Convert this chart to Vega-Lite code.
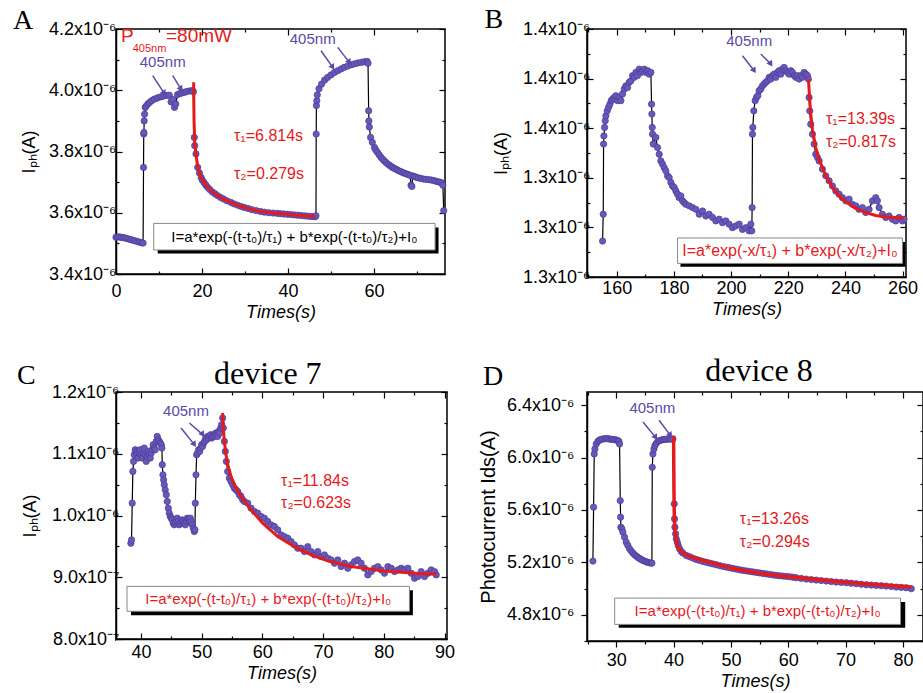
{
"$schema": "https://vega.github.io/schema/vega-lite/v6.json",
"padding": {"left": 12, "top": 5, "right": 0, "bottom": 0},
"background": "white",
"config": {
  "view": {"stroke": "black", "strokeWidth": 1.5},
  "axis": {"grid": false, "domainColor": "black", "domainWidth": 1.5, "tickColor": "black", "tickWidth": 1.2, "labelFont": "Liberation Sans", "labelFontSize": 18, "labelColor": "black", "titleFont": "Liberation Sans", "titleFontSize": 18, "titleFontWeight": "normal", "titleColor": "black", "labelFlush": false, "labelOverlap": false},
  "text": {"font": "Liberation Sans"}
},
"columns": 2,
"bounds": "flush",
"align": "each",
"spacing": {"row": 115, "column": 140},
"datasets": {
 "a": [{"x":0.0,"y":3.52},{"x":0.4,"y":3.521},{"x":0.8,"y":3.521},{"x":1.2,"y":3.52},{"x":1.6,"y":3.519},{"x":2.0,"y":3.518},{"x":2.5,"y":3.516},{"x":3.0,"y":3.514},{"x":3.5,"y":3.512},{"x":4.0,"y":3.51},{"x":4.5,"y":3.508},{"x":5.0,"y":3.506},{"x":5.5,"y":3.504},{"x":6.0,"y":3.502},{"x":6.3,"y":3.501},{"x":6.4,"y":3.748},{"x":6.45,"y":3.857},{"x":6.5,"y":3.862},{"x":6.55,"y":3.9},{"x":6.65,"y":3.922},{"x":6.8,"y":3.944},{"x":7.0,"y":3.948},{"x":7.4,"y":3.955},{"x":7.8,"y":3.96},{"x":8.3,"y":3.966},{"x":8.9,"y":3.971},{"x":9.5,"y":3.974},{"x":10.0,"y":3.977},{"x":10.6,"y":3.979},{"x":11.2,"y":3.982},{"x":11.8,"y":3.983},{"x":12.4,"y":3.984},{"x":12.8,"y":3.962},{"x":13.2,"y":3.97},{"x":13.6,"y":3.944},{"x":13.9,"y":3.955},{"x":14.3,"y":3.986},{"x":14.8,"y":3.989},{"x":15.3,"y":3.991},{"x":15.8,"y":3.993},{"x":16.3,"y":3.995},{"x":16.8,"y":3.997},{"x":17.4,"y":3.998},{"x":17.8,"y":3.999},{"x":18.0,"y":3.995},{"x":18.2,"y":3.846},{"x":18.3,"y":3.819},{"x":18.6,"y":3.792},{"x":19.0,"y":3.748},{"x":19.4,"y":3.73},{"x":19.8,"y":3.715},{"x":20.1,"y":3.706},{"x":20.5,"y":3.698},{"x":20.9,"y":3.69},{"x":21.3,"y":3.683},{"x":21.8,"y":3.676},{"x":22.4,"y":3.668},{"x":23.0,"y":3.662},{"x":23.6,"y":3.656},{"x":24.3,"y":3.65},{"x":25.0,"y":3.645},{"x":25.8,"y":3.639},{"x":26.7,"y":3.634},{"x":27.4,"y":3.629},{"x":28.2,"y":3.625},{"x":29.0,"y":3.621},{"x":29.8,"y":3.6175},{"x":30.7,"y":3.614},{"x":31.6,"y":3.61},{"x":32.6,"y":3.607},{"x":33.6,"y":3.604},{"x":34.5,"y":3.602},{"x":35.5,"y":3.6},{"x":36.5,"y":3.599},{"x":37.5,"y":3.598},{"x":38.2,"y":3.597},{"x":39.0,"y":3.596},{"x":39.8,"y":3.595},{"x":40.6,"y":3.594},{"x":41.4,"y":3.593},{"x":42.2,"y":3.592},{"x":43.0,"y":3.591},{"x":43.8,"y":3.59},{"x":44.5,"y":3.589},{"x":45.2,"y":3.588},{"x":45.8,"y":3.5875},{"x":46.3,"y":3.587},{"x":46.5,"y":3.59},{"x":46.55,"y":3.857},{"x":46.6,"y":3.95},{"x":46.7,"y":3.966},{"x":46.8,"y":3.985},{"x":47.2,"y":4.005},{"x":47.8,"y":4.02},{"x":48.5,"y":4.033},{"x":49.2,"y":4.042},{"x":50.0,"y":4.05},{"x":50.8,"y":4.058},{"x":51.6,"y":4.064},{"x":52.4,"y":4.07},{"x":53.1,"y":4.075},{"x":53.9,"y":4.079},{"x":54.7,"y":4.083},{"x":55.4,"y":4.086},{"x":56.2,"y":4.089},{"x":57.0,"y":4.091},{"x":57.7,"y":4.093},{"x":58.4,"y":4.094},{"x":58.6,"y":4.088},{"x":58.75,"y":3.933},{"x":58.8,"y":3.9},{"x":58.9,"y":3.88},{"x":59.2,"y":3.846},{"x":59.6,"y":3.83},{"x":60.1,"y":3.813},{"x":60.4,"y":3.805},{"x":60.8,"y":3.797},{"x":61.2,"y":3.789},{"x":61.6,"y":3.781},{"x":62.0,"y":3.775},{"x":62.4,"y":3.769},{"x":62.8,"y":3.764},{"x":63.2,"y":3.759},{"x":63.6,"y":3.755},{"x":64.0,"y":3.751},{"x":64.3,"y":3.748},{"x":64.7,"y":3.745},{"x":65.1,"y":3.742},{"x":65.5,"y":3.739},{"x":65.9,"y":3.736},{"x":66.3,"y":3.734},{"x":66.7,"y":3.731},{"x":67.1,"y":3.729},{"x":67.5,"y":3.727},{"x":67.9,"y":3.725},{"x":68.4,"y":3.722},{"x":68.6,"y":3.69},{"x":68.8,"y":3.686},{"x":69.0,"y":3.72},{"x":69.4,"y":3.718},{"x":69.8,"y":3.716},{"x":70.3,"y":3.714},{"x":70.9,"y":3.712},{"x":71.5,"y":3.71},{"x":72.1,"y":3.709},{"x":72.7,"y":3.708},{"x":73.3,"y":3.707},{"x":73.9,"y":3.705},{"x":74.4,"y":3.703},{"x":74.9,"y":3.701},{"x":75.3,"y":3.7},{"x":75.7,"y":3.698},{"x":76.0,"y":3.69},{"x":76.2,"y":3.607}],
 "af": [{"x":18.05,"y":4.026},{"x":18.1,"y":3.95},{"x":18.15,"y":3.9},{"x":18.3,"y":3.83},{"x":18.6,"y":3.79},{"x":19.0,"y":3.75},{"x":19.8,"y":3.715},{"x":20.5,"y":3.697},{"x":21.3,"y":3.683},{"x":22.5,"y":3.668},{"x":23.6,"y":3.656},{"x":25.0,"y":3.645},{"x":26.7,"y":3.634},{"x":28.0,"y":3.626},{"x":29.8,"y":3.6175},{"x":31.5,"y":3.611},{"x":33.6,"y":3.604},{"x":35.5,"y":3.601},{"x":37.5,"y":3.598},{"x":40.0,"y":3.595},{"x":42.0,"y":3.592},{"x":44.0,"y":3.59},{"x":46.3,"y":3.587}],
 "b": [{"x":155.05,"y":1.3145},{"x":155.28,"y":1.3253},{"x":155.4,"y":1.3536},{"x":155.51,"y":1.3569},{"x":155.75,"y":1.3603},{"x":155.98,"y":1.363},{"x":156.21,"y":1.365},{"x":156.68,"y":1.367},{"x":157.14,"y":1.3684},{"x":157.61,"y":1.3697},{"x":158.08,"y":1.3711},{"x":158.54,"y":1.3717},{"x":159.13,"y":1.3724},{"x":159.71,"y":1.3731},{"x":160.29,"y":1.3711},{"x":160.87,"y":1.3724},{"x":161.46,"y":1.3711},{"x":162.04,"y":1.3738},{"x":162.62,"y":1.3758},{"x":163.21,"y":1.3771},{"x":163.79,"y":1.3764},{"x":164.37,"y":1.3785},{"x":164.95,"y":1.3791},{"x":165.54,"y":1.3812},{"x":166.12,"y":1.3805},{"x":166.7,"y":1.3825},{"x":167.28,"y":1.3812},{"x":167.87,"y":1.3838},{"x":168.45,"y":1.3825},{"x":169.03,"y":1.3832},{"x":169.62,"y":1.3838},{"x":170.2,"y":1.3825},{"x":170.78,"y":1.3832},{"x":171.36,"y":1.3818},{"x":171.95,"y":1.3825},{"x":172.18,"y":1.3697},{"x":172.3,"y":1.3657},{"x":172.41,"y":1.3603},{"x":172.53,"y":1.3576},{"x":172.76,"y":1.3536},{"x":173.69,"y":1.3563},{"x":174.28,"y":1.3522},{"x":174.86,"y":1.3495},{"x":175.44,"y":1.3468},{"x":176.03,"y":1.3455},{"x":176.61,"y":1.3441},{"x":177.19,"y":1.3428},{"x":177.77,"y":1.3408},{"x":178.36,"y":1.3401},{"x":178.94,"y":1.3381},{"x":179.52,"y":1.3367},{"x":180.1,"y":1.3361},{"x":180.69,"y":1.3347},{"x":181.27,"y":1.3334},{"x":181.85,"y":1.332},{"x":182.44,"y":1.3327},{"x":183.02,"y":1.3307},{"x":183.6,"y":1.33},{"x":184.18,"y":1.3293},{"x":185.35,"y":1.3287},{"x":186.52,"y":1.328},{"x":187.68,"y":1.3273},{"x":188.85,"y":1.3253},{"x":190.01,"y":1.3266},{"x":191.18,"y":1.3246},{"x":192.34,"y":1.3253},{"x":193.51,"y":1.324},{"x":194.67,"y":1.3226},{"x":195.84,"y":1.3233},{"x":197.0,"y":1.3219},{"x":198.17,"y":1.3226},{"x":199.33,"y":1.3213},{"x":200.5,"y":1.3199},{"x":201.66,"y":1.3206},{"x":202.83,"y":1.3213},{"x":204.0,"y":1.3192},{"x":205.16,"y":1.3199},{"x":206.33,"y":1.3186},{"x":206.91,"y":1.3213},{"x":207.26,"y":1.3186},{"x":207.37,"y":1.328},{"x":207.49,"y":1.3576},{"x":207.61,"y":1.3603},{"x":207.96,"y":1.367},{"x":208.42,"y":1.3711},{"x":208.89,"y":1.3724},{"x":209.35,"y":1.3731},{"x":209.82,"y":1.3751},{"x":210.41,"y":1.3758},{"x":210.99,"y":1.3771},{"x":211.57,"y":1.3778},{"x":212.15,"y":1.3785},{"x":212.74,"y":1.3791},{"x":213.32,"y":1.3805},{"x":213.9,"y":1.3798},{"x":214.48,"y":1.3812},{"x":215.07,"y":1.3818},{"x":215.65,"y":1.3805},{"x":216.23,"y":1.3825},{"x":216.81,"y":1.3832},{"x":217.4,"y":1.3818},{"x":217.98,"y":1.3838},{"x":218.56,"y":1.3845},{"x":219.14,"y":1.3832},{"x":219.73,"y":1.3825},{"x":220.31,"y":1.3818},{"x":220.89,"y":1.3832},{"x":221.48,"y":1.3825},{"x":222.06,"y":1.3812},{"x":222.64,"y":1.3805},{"x":223.22,"y":1.3812},{"x":223.81,"y":1.3798},{"x":224.39,"y":1.3812},{"x":224.97,"y":1.3805},{"x":225.55,"y":1.3825},{"x":226.14,"y":1.3818},{"x":226.72,"y":1.3812},{"x":227.07,"y":1.3798},{"x":227.3,"y":1.3724},{"x":227.53,"y":1.367},{"x":227.88,"y":1.3616},{"x":228.47,"y":1.3576},{"x":229.05,"y":1.3536},{"x":229.63,"y":1.3495},{"x":230.21,"y":1.3482},{"x":230.8,"y":1.3468},{"x":231.96,"y":1.3435},{"x":233.13,"y":1.3408},{"x":234.29,"y":1.3388},{"x":235.46,"y":1.3367},{"x":236.63,"y":1.3347},{"x":237.79,"y":1.3334},{"x":238.96,"y":1.332},{"x":240.12,"y":1.3307},{"x":241.29,"y":1.3314},{"x":242.45,"y":1.3293},{"x":243.62,"y":1.3287},{"x":244.78,"y":1.3273},{"x":245.95,"y":1.328},{"x":247.11,"y":1.326},{"x":248.28,"y":1.3273},{"x":249.45,"y":1.3307},{"x":250.61,"y":1.332},{"x":251.2,"y":1.3307},{"x":251.78,"y":1.328},{"x":252.94,"y":1.3253},{"x":254.11,"y":1.324},{"x":255.27,"y":1.3246},{"x":256.44,"y":1.3233},{"x":257.6,"y":1.3226},{"x":258.77,"y":1.324},{"x":259.94,"y":1.3226},{"x":260.52,"y":1.3233}],
 "bf": [{"x":227.07,"y":1.3798},{"x":227.53,"y":1.3711},{"x":227.99,"y":1.3643},{"x":228.47,"y":1.3596},{"x":229.63,"y":1.3522},{"x":230.8,"y":1.3475},{"x":233.13,"y":1.3408},{"x":235.46,"y":1.3361},{"x":237.79,"y":1.3327},{"x":240.12,"y":1.3303},{"x":243.62,"y":1.3277},{"x":247.11,"y":1.326},{"x":250.61,"y":1.3248},{"x":254.11,"y":1.3242},{"x":257.6,"y":1.324},{"x":260.52,"y":1.3237}],
 "c": [{"x":38.35,"y":0.9551},{"x":38.46,"y":0.9605},{"x":38.57,"y":1.02},{"x":38.68,"y":1.0714},{"x":38.79,"y":1.0876},{"x":38.9,"y":1.0984},{"x":39.07,"y":1.1065},{"x":39.23,"y":1.1038},{"x":39.4,"y":1.1011},{"x":39.56,"y":1.093},{"x":39.73,"y":1.1011},{"x":39.89,"y":1.1065},{"x":40.05,"y":1.0984},{"x":40.22,"y":1.093},{"x":40.38,"y":1.1011},{"x":40.55,"y":1.1092},{"x":40.71,"y":1.0984},{"x":40.88,"y":1.0876},{"x":41.04,"y":1.0957},{"x":41.21,"y":1.1038},{"x":41.37,"y":1.0984},{"x":41.54,"y":1.093},{"x":41.7,"y":1.1011},{"x":41.87,"y":1.1065},{"x":42.03,"y":1.1146},{"x":42.2,"y":1.1092},{"x":42.36,"y":1.1065},{"x":42.53,"y":1.12},{"x":42.69,"y":1.1281},{"x":42.86,"y":1.1227},{"x":43.02,"y":1.12},{"x":43.19,"y":1.1173},{"x":43.35,"y":1.1146},{"x":43.46,"y":1.1092},{"x":43.52,"y":1.0822},{"x":43.63,"y":1.0659},{"x":43.74,"y":1.0578},{"x":43.85,"y":1.0497},{"x":44.01,"y":1.0416},{"x":44.18,"y":1.0335},{"x":44.34,"y":1.0227},{"x":44.51,"y":1.0119},{"x":44.67,"y":1.0038},{"x":44.84,"y":0.9984},{"x":45.0,"y":0.9957},{"x":45.16,"y":0.993},{"x":45.33,"y":0.9876},{"x":45.49,"y":0.9849},{"x":45.66,"y":0.9876},{"x":45.82,"y":0.9903},{"x":45.99,"y":0.9957},{"x":46.15,"y":0.9903},{"x":46.32,"y":0.9849},{"x":46.48,"y":0.9876},{"x":46.65,"y":0.9903},{"x":46.81,"y":0.993},{"x":46.98,"y":0.9903},{"x":47.14,"y":0.9876},{"x":47.31,"y":0.9849},{"x":47.47,"y":0.9903},{"x":47.64,"y":0.9957},{"x":47.8,"y":0.993},{"x":47.97,"y":0.9903},{"x":48.13,"y":0.9957},{"x":48.3,"y":0.9903},{"x":48.46,"y":0.9849},{"x":48.63,"y":0.9795},{"x":48.79,"y":0.9741},{"x":48.9,"y":0.9768},{"x":48.96,"y":1.02},{"x":49.07,"y":1.0659},{"x":49.18,"y":1.0984},{"x":49.34,"y":1.1011},{"x":49.51,"y":1.1065},{"x":49.67,"y":1.1038},{"x":49.84,"y":1.1092},{"x":50.0,"y":1.1146},{"x":50.16,"y":1.1119},{"x":50.33,"y":1.1173},{"x":50.49,"y":1.12},{"x":50.66,"y":1.1254},{"x":50.82,"y":1.1227},{"x":50.99,"y":1.1281},{"x":51.15,"y":1.1254},{"x":51.32,"y":1.1281},{"x":51.48,"y":1.1308},{"x":51.65,"y":1.1254},{"x":51.81,"y":1.1281},{"x":51.98,"y":1.1308},{"x":52.14,"y":1.1281},{"x":52.31,"y":1.1335},{"x":52.47,"y":1.1308},{"x":52.64,"y":1.1281},{"x":52.8,"y":1.1362},{"x":52.97,"y":1.1335},{"x":53.13,"y":1.1416},{"x":53.3,"y":1.147},{"x":53.46,"y":1.1578},{"x":53.57,"y":1.1416},{"x":53.74,"y":1.12},{"x":53.9,"y":1.1038},{"x":54.07,"y":1.0876},{"x":54.29,"y":1.0714},{"x":54.56,"y":1.0605},{"x":54.84,"y":1.0551},{"x":55.11,"y":1.0497},{"x":55.38,"y":1.0443},{"x":55.66,"y":1.0416},{"x":55.93,"y":1.0389},{"x":56.21,"y":1.0335},{"x":56.48,"y":1.0308},{"x":56.76,"y":1.0254},{"x":57.03,"y":1.0227},{"x":57.58,"y":1.02},{"x":58.13,"y":1.0119},{"x":58.68,"y":1.0065},{"x":59.23,"y":1.0038},{"x":59.78,"y":0.9984},{"x":60.33,"y":0.9957},{"x":60.88,"y":0.9903},{"x":61.43,"y":0.9849},{"x":61.98,"y":0.9822},{"x":62.53,"y":0.9768},{"x":63.08,"y":0.9686},{"x":63.63,"y":0.9659},{"x":64.18,"y":0.9632},{"x":64.73,"y":0.9578},{"x":65.27,"y":0.9524},{"x":65.82,"y":0.947},{"x":66.37,"y":0.947},{"x":66.92,"y":0.9416},{"x":67.47,"y":0.9497},{"x":68.02,"y":0.9416},{"x":68.57,"y":0.9362},{"x":69.12,"y":0.9416},{"x":69.67,"y":0.9335},{"x":70.22,"y":0.9362},{"x":70.77,"y":0.9308},{"x":71.32,"y":0.9281},{"x":71.87,"y":0.9227},{"x":72.42,"y":0.9281},{"x":72.97,"y":0.9173},{"x":73.52,"y":0.9227},{"x":74.07,"y":0.9146},{"x":74.62,"y":0.92},{"x":75.16,"y":0.9254},{"x":75.71,"y":0.9281},{"x":76.26,"y":0.9227},{"x":76.81,"y":0.9146},{"x":77.36,"y":0.9038},{"x":77.91,"y":0.9092},{"x":78.46,"y":0.9146},{"x":79.01,"y":0.9173},{"x":79.56,"y":0.9119},{"x":80.11,"y":0.9065},{"x":80.66,"y":0.9173},{"x":81.21,"y":0.9146},{"x":81.76,"y":0.9092},{"x":82.31,"y":0.9119},{"x":82.86,"y":0.9146},{"x":83.41,"y":0.9119},{"x":83.96,"y":0.9146},{"x":84.51,"y":0.9065},{"x":85.05,"y":0.8984},{"x":85.6,"y":0.9011},{"x":86.15,"y":0.9092},{"x":86.7,"y":0.9011},{"x":87.25,"y":0.9065},{"x":87.8,"y":0.9119},{"x":88.35,"y":0.9092},{"x":88.63,"y":0.9038}],
 "cf": [{"x":53.46,"y":1.166},{"x":53.57,"y":1.1416},{"x":53.74,"y":1.12},{"x":54.01,"y":1.0984},{"x":54.29,"y":1.0822},{"x":54.84,"y":1.0632},{"x":55.38,"y":1.0497},{"x":56.48,"y":1.0308},{"x":58.13,"y":1.0092},{"x":60.05,"y":0.9876},{"x":62.53,"y":0.9659},{"x":65.27,"y":0.9497},{"x":68.02,"y":0.9362},{"x":70.77,"y":0.9265},{"x":74.62,"y":0.9173},{"x":80.11,"y":0.9103},{"x":85.6,"y":0.9059},{"x":88.63,"y":0.9049}],
 "d": [{"x":25.93,"y":5.2096},{"x":26.05,"y":5.6208},{"x":26.16,"y":6.0269},{"x":26.28,"y":6.065},{"x":26.51,"y":6.103},{"x":26.8,"y":6.1234},{"x":27.09,"y":6.1335},{"x":27.38,"y":6.1386},{"x":27.67,"y":6.1411},{"x":27.97,"y":6.1437},{"x":28.26,"y":6.1437},{"x":28.55,"y":6.1437},{"x":28.84,"y":6.1411},{"x":29.13,"y":6.1386},{"x":29.42,"y":6.1386},{"x":29.71,"y":6.136},{"x":30.0,"y":6.1335},{"x":30.29,"y":6.1284},{"x":30.47,"y":6.1234},{"x":30.58,"y":6.103},{"x":30.7,"y":5.6716},{"x":30.76,"y":5.5447},{"x":30.81,"y":5.4685},{"x":30.99,"y":5.4558},{"x":31.16,"y":5.4305},{"x":31.45,"y":5.3924},{"x":31.74,"y":5.3543},{"x":32.03,"y":5.3289},{"x":32.33,"y":5.3036},{"x":32.62,"y":5.2858},{"x":32.91,"y":5.2706},{"x":33.2,"y":5.2579},{"x":33.49,"y":5.2477},{"x":33.78,"y":5.2376},{"x":34.07,"y":5.2299},{"x":34.36,"y":5.2223},{"x":34.65,"y":5.2147},{"x":34.94,"y":5.2096},{"x":35.23,"y":5.2046},{"x":35.52,"y":5.1995},{"x":35.81,"y":5.197},{"x":36.1,"y":5.1944},{"x":36.22,"y":5.1944},{"x":36.28,"y":5.9254},{"x":36.4,"y":6.0269},{"x":36.57,"y":6.065},{"x":36.74,"y":6.0904},{"x":36.98,"y":6.108},{"x":37.27,"y":6.1234},{"x":37.56,"y":6.1284},{"x":37.85,"y":6.1335},{"x":38.14,"y":6.136},{"x":38.43,"y":6.1386},{"x":38.72,"y":6.1386},{"x":39.01,"y":6.1411},{"x":39.3,"y":6.1411},{"x":39.59,"y":6.1411},{"x":39.88,"y":6.1411},{"x":40.12,"y":5.6462},{"x":40.17,"y":5.532},{"x":40.23,"y":5.4685},{"x":40.35,"y":5.4178},{"x":40.47,"y":5.3797},{"x":40.64,"y":5.3543},{"x":40.81,"y":5.3289},{"x":41.05,"y":5.3036},{"x":41.34,"y":5.2832},{"x":41.63,"y":5.2706},{"x":42.21,"y":5.2528},{"x":42.79,"y":5.2426},{"x":43.37,"y":5.2325},{"x":43.95,"y":5.2223},{"x":44.53,"y":5.2147},{"x":45.12,"y":5.2071},{"x":45.7,"y":5.2008},{"x":46.28,"y":5.1944},{"x":46.86,"y":5.188},{"x":47.44,"y":5.1817},{"x":48.02,"y":5.1754},{"x":48.6,"y":5.169},{"x":49.19,"y":5.164},{"x":49.77,"y":5.1589},{"x":50.35,"y":5.1538},{"x":50.93,"y":5.1487},{"x":51.51,"y":5.1437},{"x":52.09,"y":5.1386},{"x":52.67,"y":5.1348},{"x":53.26,"y":5.131},{"x":53.84,"y":5.1272},{"x":54.42,"y":5.1234},{"x":55.0,"y":5.1195},{"x":55.58,"y":5.1157},{"x":56.16,"y":5.1119},{"x":56.74,"y":5.1081},{"x":57.33,"y":5.1043},{"x":57.91,"y":5.1005},{"x":58.49,"y":5.098},{"x":59.07,"y":5.0954},{"x":59.65,"y":5.0929},{"x":60.23,"y":5.0904},{"x":60.81,"y":5.0866},{"x":61.4,"y":5.0827},{"x":62.27,"y":5.0777},{"x":63.14,"y":5.0726},{"x":64.01,"y":5.0688},{"x":64.88,"y":5.065},{"x":65.76,"y":5.0612},{"x":66.63,"y":5.0574},{"x":67.5,"y":5.0536},{"x":68.37,"y":5.0497},{"x":69.24,"y":5.0472},{"x":70.12,"y":5.0447},{"x":70.99,"y":5.0409},{"x":71.86,"y":5.0371},{"x":72.73,"y":5.0333},{"x":73.6,"y":5.0294},{"x":74.48,"y":5.0269},{"x":75.35,"y":5.0244},{"x":76.22,"y":5.0218},{"x":77.09,"y":5.0193},{"x":77.97,"y":5.0155},{"x":78.84,"y":5.0117},{"x":79.71,"y":5.0091},{"x":80.58,"y":5.0066},{"x":81.45,"y":4.999}],
 "df": [{"x":40.0,"y":6.1665},{"x":40.06,"y":5.7731},{"x":40.12,"y":5.5701},{"x":40.23,"y":5.4431},{"x":40.47,"y":5.367},{"x":40.76,"y":5.3213},{"x":41.05,"y":5.2959},{"x":41.63,"y":5.2706},{"x":42.79,"y":5.2452},{"x":43.95,"y":5.2299},{"x":46.86,"y":5.1944},{"x":49.77,"y":5.1589},{"x":52.67,"y":5.1335},{"x":55.58,"y":5.1132},{"x":58.49,"y":5.098},{"x":61.4,"y":5.0853},{"x":67.21,"y":5.0599},{"x":73.02,"y":5.0371},{"x":78.84,"y":5.0193},{"x":81.45,"y":5.0117}]
},
"concat": [
 {
  "width": 329, "height": 245,
  "resolve": {"axis": {"x": "independent", "y": "independent"}},
  "layer": [
   {"data": {"name": "a"}, "mark": {"type": "line", "color": "black", "strokeWidth": 1.2},
    "encoding": {
     "x": {"field": "x", "type": "quantitative", "scale": {"domain": [0, 76.5], "nice": false, "zero": false},
       "axis": {"orient": "bottom", "values": [0,10,20,30,40,50,60,70], "labelExpr": "datum.value % 20 === 0 ? datum.label : ''", "tickSize": {"condition": {"test": "datum.value % 20 === 0", "value": -6}, "value": -3}, "title": "Times(s)", "titleFontStyle": "italic", "titlePadding": 0, "labelPadding": 14}},
     "y": {"field": "y", "type": "quantitative", "scale": {"domain": [3.4, 4.2], "nice": false, "zero": false},
       "axis": {"orient": "left", "values": [3.4,3.5,3.6,3.7,3.8,3.9,4.0,4.1,4.2], "labelExpr": "round(datum.value*10) % 2 === 0 ? format(datum.value, '.1f') + 'x10⁻⁶' : ''", "tickSize": {"condition": {"test": "round(datum.value*10) % 2 === 0", "value": -6}, "value": -3}, "title": "Iₚₕ(A)", "titlePadding": 10, "labelPadding": 6}}
    }},
   {"data": {"name": "a"}, "mark": {"type": "point", "shape": "circle", "filled": true, "size": 40, "color": "#6a58b8", "stroke": "#4b3a9c", "strokeWidth": 0.7, "opacity": 1},
    "encoding": {
     "x": {"field": "x", "type": "quantitative", "axis": {"orient": "top", "values": [0,10,20,30,40,50,60,70], "labels": false, "domain": false, "title": null, "tickSize": {"condition": {"test": "datum.value % 20 === 0", "value": -6}, "value": -3}}},
     "y": {"field": "y", "type": "quantitative", "axis": {"orient": "right", "values": [3.4,3.5,3.6,3.7,3.8,3.9,4.0,4.1,4.2], "labels": false, "domain": false, "title": null, "tickSize": {"condition": {"test": "round(datum.value*10) % 2 === 0", "value": -6}, "value": -3}}}
    }},
   {"data": {"name": "af"}, "mark": {"type": "line", "color": "#e41a1c", "strokeWidth": 3},
    "encoding": {"x": {"field": "x", "type": "quantitative", "axis": null}, "y": {"field": "y", "type": "quantitative", "axis": null}}},
   {"data": {"values": [{"x": 9.7, "x2": 75.0, "y": 3.5522, "y2": 3.4673}]}, "mark": {"type": "rect", "color": "black"},
    "encoding": {"x": {"field": "x", "type": "quantitative", "axis": null}, "x2": {"field": "x2"}, "y": {"field": "y", "type": "quantitative", "axis": null}, "y2": {"field": "y2"}}},
   {"data": {"values": [{"x": 8.77, "x2": 74.19, "y": 3.5652, "y2": 3.4784}]}, "mark": {"type": "rect", "fill": "white", "stroke": "#888888", "strokeWidth": 1},
    "encoding": {"x": {"field": "x", "type": "quantitative", "axis": null}, "x2": {"field": "x2"}, "y": {"field": "y", "type": "quantitative", "axis": null}, "y2": {"field": "y2"}}},
   {"data": {"values": [{"x": 41.47, "y": 3.522, "t": "I=a*exp(-(t-t₀)/τ₁) + b*exp(-(t-t₀)/τ₂)+I₀"}]}, "mark": {"type": "text", "align": "center", "baseline": "middle", "color": "black", "fontSize": 15},
    "encoding": {"x": {"field": "x", "type": "quantitative", "axis": null}, "y": {"field": "y", "type": "quantitative", "axis": null}, "text": {"field": "t"}}},
   {"data": {"values": [{"x": 27.44, "y": 3.835, "t": "τ₁=6.814s"}, {"x": 27.44, "y": 3.71, "t": "τ₂=0.279s"}]}, "mark": {"type": "text", "align": "left", "baseline": "alphabetic", "color": "#e41a1c", "fontSize": 16},
    "encoding": {"x": {"field": "x", "type": "quantitative", "axis": null}, "y": {"field": "y", "type": "quantitative", "axis": null}, "text": {"field": "t"}}},
   {"data": {"values": [{"x": 10.86, "y": 4.0746, "t": "405nm"}, {"x": 45.74, "y": 4.151, "t": "405nm"}]}, "mark": {"type": "text", "align": "center", "baseline": "alphabetic", "color": "#5b4aa8", "fontSize": 15},
    "encoding": {"x": {"field": "x", "type": "quantitative", "axis": null}, "y": {"field": "y", "type": "quantitative", "axis": null}, "text": {"field": "t"}}},
   {"data": {"values": [{"x": 8.53, "y": 4.0475, "x2": 11.23, "y2": 3.9897}, {"x": 13.19, "y": 4.0475, "x2": 15.12, "y2": 4.004}, {"x": 47.67, "y": 4.129, "x2": 50.4, "y2": 4.0746}, {"x": 51.56, "y": 4.14, "x2": 54.26, "y2": 4.091}]}, "mark": {"type": "rule", "color": "#5b4aa8", "strokeWidth": 1.5},
    "encoding": {"x": {"field": "x", "type": "quantitative", "axis": null}, "x2": {"field": "x2"}, "y": {"field": "y", "type": "quantitative", "axis": null}, "y2": {"field": "y2"}}},
   {"data": {"values": [{"x": 11.23, "y": 3.9897}, {"x": 15.12, "y": 4.004}, {"x": 50.4, "y": 4.0746}, {"x": 54.26, "y": 4.091}]}, "mark": {"type": "point", "shape": "triangle-up", "filled": true, "size": 45, "angle": 146, "color": "#5b4aa8", "opacity": 1},
    "encoding": {"x": {"field": "x", "type": "quantitative", "axis": null}, "y": {"field": "y", "type": "quantitative", "axis": null}}},
   {"data": {"values": [{"x": 1.16, "y": 4.156, "t": "P"}, {"x": 11.63, "y": 4.156, "t": "=80mW"}]}, "mark": {"type": "text", "align": "left", "baseline": "alphabetic", "color": "#e41a1c", "fontSize": 19},
    "encoding": {"x": {"field": "x", "type": "quantitative", "axis": null}, "y": {"field": "y", "type": "quantitative", "axis": null}, "text": {"field": "t"}}},
   {"data": {"values": [{"x": 3.88, "y": 4.126, "t": "405nm"}]}, "mark": {"type": "text", "align": "left", "baseline": "alphabetic", "color": "#e41a1c", "fontSize": 11},
    "encoding": {"x": {"field": "x", "type": "quantitative", "axis": null}, "y": {"field": "y", "type": "quantitative", "axis": null}, "text": {"field": "t"}}},
   {"data": {"values": [{"x": -23.95, "y": 4.201, "t": "A"}]}, "mark": {"type": "text", "align": "left", "baseline": "alphabetic", "color": "black", "fontSize": 28, "font": "Liberation Serif"},
    "encoding": {"x": {"field": "x", "type": "quantitative", "axis": null}, "y": {"field": "y", "type": "quantitative", "axis": null}, "text": {"field": "t"}}}
  ]
 },
 {
  "width": 319, "height": 248,
  "resolve": {"axis": {"x": "independent", "y": "independent"}},
  "layer": [
   {"data": {"name": "b"}, "mark": {"type": "line", "color": "black", "strokeWidth": 1.2},
    "encoding": {
     "x": {"field": "x", "type": "quantitative", "scale": {"domain": [149.6, 261.2], "nice": false, "zero": false},
       "axis": {"orient": "bottom", "values": [150,160,170,180,190,200,210,220,230,240,250,260], "labelExpr": "datum.value % 20 === 0 ? datum.label : ''", "tickSize": {"condition": {"test": "datum.value % 20 === 0", "value": -6}, "value": -3}, "title": "Times(s)", "titleFontStyle": "italic", "titlePadding": 0, "labelPadding": 8}},
     "y": {"field": "y", "type": "quantitative", "scale": {"domain": [1.30, 1.40], "nice": false, "zero": false},
       "axis": {"orient": "left", "values": [1.30,1.31,1.32,1.33,1.34,1.35,1.36,1.37,1.38,1.39,1.40], "labelExpr": "round(datum.value*100) % 2 === 0 ? format(datum.value, '.1f') + 'x10⁻⁶' : ''", "tickSize": {"condition": {"test": "round(datum.value*100) % 2 === 0", "value": -6}, "value": -3}, "title": "Iₚₕ(A)", "titlePadding": 12, "labelPadding": 3}}
    }},
   {"data": {"name": "b"}, "mark": {"type": "point", "shape": "circle", "filled": true, "size": 40, "color": "#6a58b8", "stroke": "#4b3a9c", "strokeWidth": 0.7, "opacity": 1},
    "encoding": {
     "x": {"field": "x", "type": "quantitative", "axis": {"orient": "top", "values": [150,160,170,180,190,200,210,220,230,240,250,260], "labels": false, "domain": false, "title": null, "tickSize": {"condition": {"test": "datum.value % 20 === 0", "value": -6}, "value": -3}}},
     "y": {"field": "y", "type": "quantitative", "axis": {"orient": "right", "values": [1.30,1.31,1.32,1.33,1.34,1.35,1.36,1.37,1.38,1.39,1.40], "labels": false, "domain": false, "title": null, "tickSize": {"condition": {"test": "round(datum.value*100) % 2 === 0", "value": -6}, "value": -3}}}
    }},
   {"data": {"name": "bf"}, "mark": {"type": "line", "color": "#e41a1c", "strokeWidth": 3},
    "encoding": {"x": {"field": "x", "type": "quantitative", "axis": null}, "y": {"field": "y", "type": "quantitative", "axis": null}}},
   {"data": {"values": [{"x": 182.3, "x2": 261.0, "y": 1.3141, "y2": 1.3041}]}, "mark": {"type": "rect", "color": "black"},
    "encoding": {"x": {"field": "x", "type": "quantitative", "axis": null}, "x2": {"field": "x2"}, "y": {"field": "y", "type": "quantitative", "axis": null}, "y2": {"field": "y2"}}},
   {"data": {"values": [{"x": 181.28, "x2": 259.95, "y": 1.31573, "y2": 1.30548}]}, "mark": {"type": "rect", "fill": "white", "stroke": "#888888", "strokeWidth": 1},
    "encoding": {"x": {"field": "x", "type": "quantitative", "axis": null}, "x2": {"field": "x2"}, "y": {"field": "y", "type": "quantitative", "axis": null}, "y2": {"field": "y2"}}},
   {"data": {"values": [{"x": 220.6, "y": 1.3106, "t": "I=a*exp(-x/τ₁) + b*exp(-x/τ₂)+I₀"}]}, "mark": {"type": "text", "align": "center", "baseline": "middle", "color": "#e41a1c", "fontSize": 16},
    "encoding": {"x": {"field": "x", "type": "quantitative", "axis": null}, "y": {"field": "y", "type": "quantitative", "axis": null}, "text": {"field": "t"}}},
   {"data": {"values": [{"x": 233.2, "y": 1.3617, "t": "τ₁=13.39s"}, {"x": 233.2, "y": 1.3523, "t": "τ₂=0.817s"}]}, "mark": {"type": "text", "align": "left", "baseline": "alphabetic", "color": "#e41a1c", "fontSize": 16},
    "encoding": {"x": {"field": "x", "type": "quantitative", "axis": null}, "y": {"field": "y", "type": "quantitative", "axis": null}, "text": {"field": "t"}}},
   {"data": {"values": [{"x": 206.35, "y": 1.3933, "t": "405nm"}]}, "mark": {"type": "text", "align": "center", "baseline": "alphabetic", "color": "#5b4aa8", "fontSize": 15},
    "encoding": {"x": {"field": "x", "type": "quantitative", "axis": null}, "y": {"field": "y", "type": "quantitative", "axis": null}, "text": {"field": "t"}}},
   {"data": {"values": [{"x": 204.0, "y": 1.3892, "x2": 208.1, "y2": 1.3832}, {"x": 210.4, "y": 1.3899, "x2": 213.9, "y2": 1.3859}]}, "mark": {"type": "rule", "color": "#5b4aa8", "strokeWidth": 1.5},
    "encoding": {"x": {"field": "x", "type": "quantitative", "axis": null}, "x2": {"field": "x2"}, "y": {"field": "y", "type": "quantitative", "axis": null}, "y2": {"field": "y2"}}},
   {"data": {"values": [{"x": 208.1, "y": 1.3832}, {"x": 213.9, "y": 1.3859}]}, "mark": {"type": "point", "shape": "triangle-up", "filled": true, "size": 45, "angle": 146, "color": "#5b4aa8", "opacity": 1},
    "encoding": {"x": {"field": "x", "type": "quantitative", "axis": null}, "y": {"field": "y", "type": "quantitative", "axis": null}}},
   {"data": {"values": [{"x": 113.7, "y": 1.4003, "t": "B"}]}, "mark": {"type": "text", "align": "left", "baseline": "alphabetic", "color": "black", "fontSize": 28, "font": "Liberation Serif"},
    "encoding": {"x": {"field": "x", "type": "quantitative", "axis": null}, "y": {"field": "y", "type": "quantitative", "axis": null}, "text": {"field": "t"}}}
  ]
 },
 {
  "width": 331, "height": 247,
  "resolve": {"axis": {"x": "independent", "y": "independent"}},
  "layer": [
   {"data": {"name": "c"}, "mark": {"type": "line", "color": "black", "strokeWidth": 1.2},
    "encoding": {
     "x": {"field": "x", "type": "quantitative", "scale": {"domain": [35.9, 90.4], "nice": false, "zero": false},
       "axis": {"orient": "bottom", "values": [40,45,50,55,60,65,70,75,80,85,90], "labelExpr": "datum.value % 10 === 0 ? datum.label : ''", "tickSize": {"condition": {"test": "datum.value % 10 === 0", "value": -6}, "value": -3}, "title": "Times(s)", "titleFontStyle": "italic", "titlePadding": 0, "labelPadding": 10}},
     "y": {"field": "y", "type": "quantitative", "scale": {"domain": [0.8, 1.2], "nice": false, "zero": false},
       "axis": {"orient": "left", "values": [0.8,0.85,0.9,0.95,1.0,1.05,1.1,1.15,1.2], "labelExpr": "round(datum.value*100) % 10 === 0 ? (datum.value > 0.95 ? format(datum.value, '.1f') + 'x10⁻⁶' : format(datum.value*10, '.1f') + 'x10⁻⁷') : ''", "tickSize": {"condition": {"test": "round(datum.value*100) % 10 === 0", "value": -6}, "value": -3}, "title": "Iₚₕ(A)", "titlePadding": 12, "labelPadding": 3}}
    }},
   {"data": {"name": "c"}, "mark": {"type": "point", "shape": "circle", "filled": true, "size": 40, "color": "#6a58b8", "stroke": "#4b3a9c", "strokeWidth": 0.7, "opacity": 1},
    "encoding": {
     "x": {"field": "x", "type": "quantitative", "axis": {"orient": "top", "values": [40,45,50,55,60,65,70,75,80,85,90], "labels": false, "domain": false, "title": null, "tickSize": {"condition": {"test": "datum.value % 10 === 0", "value": -6}, "value": -3}}},
     "y": {"field": "y", "type": "quantitative", "axis": {"orient": "right", "values": [0.8,0.85,0.9,0.95,1.0,1.05,1.1,1.15,1.2], "labels": false, "domain": false, "title": null, "tickSize": {"condition": {"test": "round(datum.value*100) % 10 === 0", "value": -6}, "value": -3}}}
    }},
   {"data": {"name": "cf"}, "mark": {"type": "line", "color": "#e41a1c", "strokeWidth": 3},
    "encoding": {"x": {"field": "x", "type": "quantitative", "axis": null}, "y": {"field": "y", "type": "quantitative", "axis": null}}},
   {"data": {"values": [{"x": 38.37, "x2": 84.78, "y": 0.8788, "y2": 0.8384}]}, "mark": {"type": "rect", "color": "black"},
    "encoding": {"x": {"field": "x", "type": "quantitative", "axis": null}, "x2": {"field": "x2"}, "y": {"field": "y", "type": "quantitative", "axis": null}, "y2": {"field": "y2"}}},
   {"data": {"values": [{"x": 37.71, "x2": 84.22, "y": 0.8853, "y2": 0.8449}]}, "mark": {"type": "rect", "fill": "white", "stroke": "#888888", "strokeWidth": 1},
    "encoding": {"x": {"field": "x", "type": "quantitative", "axis": null}, "x2": {"field": "x2"}, "y": {"field": "y", "type": "quantitative", "axis": null}, "y2": {"field": "y2"}}},
   {"data": {"values": [{"x": 60.97, "y": 0.8651, "t": "I=a*exp(-(t-t₀)/τ₁) + b*exp(-(t-t₀)/τ₂)+I₀"}]}, "mark": {"type": "text", "align": "center", "baseline": "middle", "color": "#e41a1c", "fontSize": 15},
    "encoding": {"x": {"field": "x", "type": "quantitative", "axis": null}, "y": {"field": "y", "type": "quantitative", "axis": null}, "text": {"field": "t"}}},
   {"data": {"values": [{"x": 63.08, "y": 1.0473, "t": "τ₁=11.84s"}, {"x": 63.08, "y": 1.0122, "t": "τ₂=0.623s"}]}, "mark": {"type": "text", "align": "left", "baseline": "alphabetic", "color": "#e41a1c", "fontSize": 16},
    "encoding": {"x": {"field": "x", "type": "quantitative", "axis": null}, "y": {"field": "y", "type": "quantitative", "axis": null}, "text": {"field": "t"}}},
   {"data": {"values": [{"x": 47.43, "y": 1.1606, "t": "405nm"}]}, "mark": {"type": "text", "align": "center", "baseline": "alphabetic", "color": "#5b4aa8", "fontSize": 15},
    "encoding": {"x": {"field": "x", "type": "quantitative", "axis": null}, "y": {"field": "y", "type": "quantitative", "axis": null}, "text": {"field": "t"}}},
   {"data": {"values": [{"x": 46.61, "y": 1.1417, "x2": 48.8, "y2": 1.1148}, {"x": 47.98, "y": 1.1498, "x2": 50.18, "y2": 1.131}]}, "mark": {"type": "rule", "color": "#5b4aa8", "strokeWidth": 1.5},
    "encoding": {"x": {"field": "x", "type": "quantitative", "axis": null}, "x2": {"field": "x2"}, "y": {"field": "y", "type": "quantitative", "axis": null}, "y2": {"field": "y2"}}},
   {"data": {"values": [{"x": 48.8, "y": 1.1148}, {"x": 50.18, "y": 1.131}]}, "mark": {"type": "point", "shape": "triangle-up", "filled": true, "size": 45, "angle": 146, "color": "#5b4aa8", "opacity": 1},
    "encoding": {"x": {"field": "x", "type": "quantitative", "axis": null}, "y": {"field": "y", "type": "quantitative", "axis": null}}},
   {"data": {"values": [{"x": 19.6, "y": 1.2125, "t": "C"}]}, "mark": {"type": "text", "align": "left", "baseline": "alphabetic", "color": "black", "fontSize": 28, "font": "Liberation Serif"},
    "encoding": {"x": {"field": "x", "type": "quantitative", "axis": null}, "y": {"field": "y", "type": "quantitative", "axis": null}, "text": {"field": "t"}}},
   {"data": {"values": [{"x": 60.9, "y": 1.213, "t": "device 7"}]}, "mark": {"type": "text", "align": "center", "baseline": "alphabetic", "color": "black", "fontSize": 32, "font": "Liberation Serif"},
    "encoding": {"x": {"field": "x", "type": "quantitative", "axis": null}, "y": {"field": "y", "type": "quantitative", "axis": null}, "text": {"field": "t"}}}
  ]
 },
 {
  "width": 336, "height": 249,
  "resolve": {"axis": {"x": "independent", "y": "independent"}},
  "layer": [
   {"data": {"name": "d"}, "mark": {"type": "line", "color": "black", "strokeWidth": 1.2},
    "encoding": {
     "x": {"field": "x", "type": "quantitative", "scale": {"domain": [24.9, 83.5], "nice": false, "zero": false},
       "axis": {"orient": "bottom", "values": [25,30,35,40,45,50,55,60,65,70,75,80], "labelExpr": "datum.value % 10 === 0 ? datum.label : ''", "tickSize": {"condition": {"test": "datum.value % 10 === 0", "value": 6}, "value": 3}, "title": "Times(s)", "titleFontStyle": "italic", "titlePadding": 3, "labelPadding": 4}},
     "y": {"field": "y", "type": "quantitative", "scale": {"domain": [4.6, 6.5], "nice": false, "zero": false},
       "axis": {"orient": "left", "values": [4.6,4.8,5.0,5.2,5.4,5.6,5.8,6.0,6.2,6.4], "labelExpr": "round(datum.value*10) % 4 === 0 ? format(datum.value, '.1f') + 'x10⁻⁶' : ''", "tickSize": {"condition": {"test": "round(datum.value*10) % 4 === 0", "value": 6}, "value": 3}, "title": "Photocurrent Ids(A)", "titleFontSize": 20, "titlePadding": 8, "labelPadding": 7}}
    }},
   {"data": {"name": "d"}, "mark": {"type": "point", "shape": "circle", "filled": true, "size": 40, "color": "#6a58b8", "stroke": "#4b3a9c", "strokeWidth": 0.7, "opacity": 1},
    "encoding": {
     "x": {"field": "x", "type": "quantitative", "axis": {"orient": "top", "values": [25,30,35,40,45,50,55,60,65,70,75,80], "labels": false, "domain": false, "title": null, "tickSize": {"condition": {"test": "datum.value % 10 === 0", "value": -6}, "value": -3}}},
     "y": {"field": "y", "type": "quantitative", "axis": {"orient": "right", "values": [4.6,4.8,5.0,5.2,5.4,5.6,5.8,6.0,6.2,6.4], "labels": false, "domain": false, "title": null, "tickSize": {"condition": {"test": "round(datum.value*10) % 4 === 0", "value": -6}, "value": -3}}}
    }},
   {"data": {"name": "df"}, "mark": {"type": "line", "color": "#e41a1c", "strokeWidth": 3.5},
    "encoding": {"x": {"field": "x", "type": "quantitative", "axis": null}, "y": {"field": "y", "type": "quantitative", "axis": null}}},
   {"data": {"values": [{"x": 30.43, "x2": 80.4, "y": 4.897, "y2": 4.701}]}, "mark": {"type": "rect", "color": "black"},
    "encoding": {"x": {"field": "x", "type": "quantitative", "axis": null}, "x2": {"field": "x2"}, "y": {"field": "y", "type": "quantitative", "axis": null}, "y2": {"field": "y2"}}},
   {"data": {"values": [{"x": 29.73, "x2": 79.58, "y": 4.9275, "y2": 4.7267}]}, "mark": {"type": "rect", "fill": "white", "stroke": "#888888", "strokeWidth": 1},
    "encoding": {"x": {"field": "x", "type": "quantitative", "axis": null}, "x2": {"field": "x2"}, "y": {"field": "y", "type": "quantitative", "axis": null}, "y2": {"field": "y2"}}},
   {"data": {"values": [{"x": 54.66, "y": 4.8275, "t": "I=a*exp(-(t-t₀)/τ₁) + b*exp(-(t-t₀)/τ₂)+I₀"}]}, "mark": {"type": "text", "align": "center", "baseline": "middle", "color": "#e41a1c", "fontSize": 15},
    "encoding": {"x": {"field": "x", "type": "quantitative", "axis": null}, "y": {"field": "y", "type": "quantitative", "axis": null}, "text": {"field": "t"}}},
   {"data": {"values": [{"x": 51.55, "y": 5.495, "t": "τ₁=13.26s"}, {"x": 51.55, "y": 5.317, "t": "τ₂=0.294s"}]}, "mark": {"type": "text", "align": "left", "baseline": "alphabetic", "color": "#e41a1c", "fontSize": 16},
    "encoding": {"x": {"field": "x", "type": "quantitative", "axis": null}, "y": {"field": "y", "type": "quantitative", "axis": null}, "text": {"field": "t"}}},
   {"data": {"values": [{"x": 36.3, "y": 6.34, "t": "405nm"}]}, "mark": {"type": "text", "align": "center", "baseline": "alphabetic", "color": "#5b4aa8", "fontSize": 15},
    "encoding": {"x": {"field": "x", "type": "quantitative", "axis": null}, "y": {"field": "y", "type": "quantitative", "axis": null}, "text": {"field": "t"}}},
   {"data": {"values": [{"x": 34.67, "y": 6.271, "x2": 36.89, "y2": 6.152}, {"x": 37.47, "y": 6.284, "x2": 39.44, "y2": 6.169}]}, "mark": {"type": "rule", "color": "#5b4aa8", "strokeWidth": 1.5},
    "encoding": {"x": {"field": "x", "type": "quantitative", "axis": null}, "x2": {"field": "x2"}, "y": {"field": "y", "type": "quantitative", "axis": null}, "y2": {"field": "y2"}}},
   {"data": {"values": [{"x": 36.89, "y": 6.152}, {"x": 39.44, "y": 6.169}]}, "mark": {"type": "point", "shape": "triangle-up", "filled": true, "size": 45, "angle": 146, "color": "#5b4aa8", "opacity": 1},
    "encoding": {"x": {"field": "x", "type": "quantitative", "axis": null}, "y": {"field": "y", "type": "quantitative", "axis": null}}},
   {"data": {"values": [{"x": 6.75, "y": 6.551, "t": "D"}]}, "mark": {"type": "text", "align": "left", "baseline": "alphabetic", "color": "black", "fontSize": 28, "font": "Liberation Serif"},
    "encoding": {"x": {"field": "x", "type": "quantitative", "axis": null}, "y": {"field": "y", "type": "quantitative", "axis": null}, "text": {"field": "t"}}},
   {"data": {"values": [{"x": 54.9, "y": 6.582, "t": "device 8"}]}, "mark": {"type": "text", "align": "center", "baseline": "alphabetic", "color": "black", "fontSize": 32, "font": "Liberation Serif"},
    "encoding": {"x": {"field": "x", "type": "quantitative", "axis": null}, "y": {"field": "y", "type": "quantitative", "axis": null}, "text": {"field": "t"}}}
  ]
 }
]
}
